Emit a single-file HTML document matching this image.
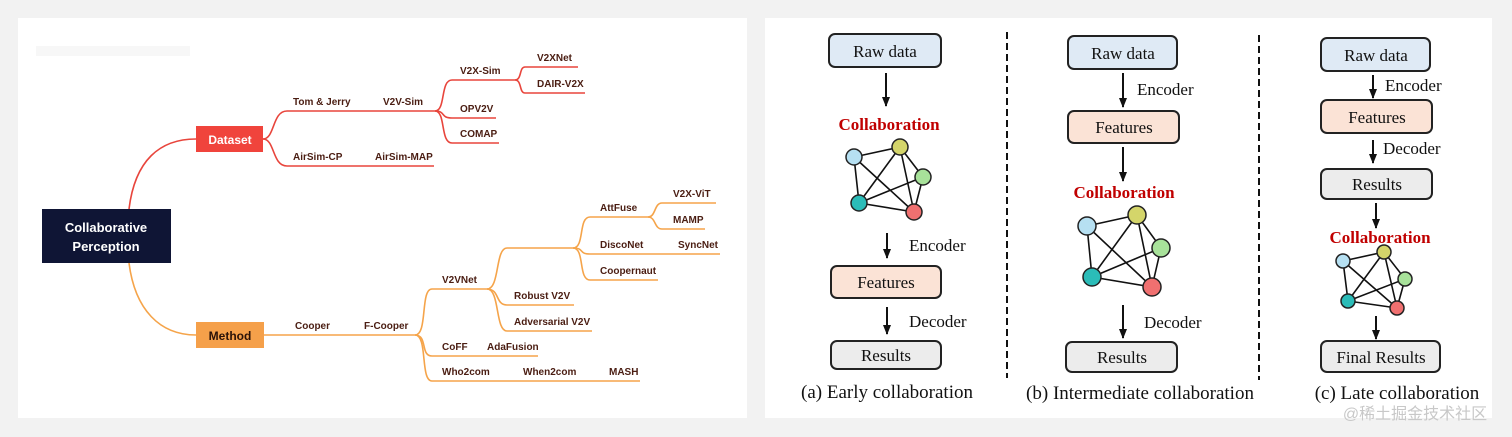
<!DOCTYPE html>
<html><head><meta charset="utf-8"><style>
html,body{margin:0;padding:0;background:#f2f2f2;}
svg{display:block}
.m{font-family:"Liberation Sans",sans-serif;font-size:10px;font-weight:bold;fill:#4a1d12}
.s{font-family:"Liberation Serif",serif;}
</style></head><body>
<svg width="1512" height="437" viewBox="0 0 1512 437" xmlns="http://www.w3.org/2000/svg">
<rect x="0" y="0" width="1512" height="437" fill="#f2f2f2"/>
<rect x="18" y="18" width="729" height="400" fill="#fff"/>
<rect x="765" y="18" width="727" height="400" fill="#fff"/>
<rect x="36" y="46" width="154" height="10" fill="#f7f7f7"/>

<g fill="none" stroke="#e8453c" stroke-width="1.6">
<path d="M129 209 C135 160 160 139 196 139"/>
<path d="M263 139 C275 139 272 111 287 111 H435"/>
<path d="M263 139 C275 139 272 166 287 166 H434"/>
<path d="M435 111 C446 111 440 80 452 80 H515"/>
<path d="M435 111 C446 111 440 118 452 118 H496"/>
<path d="M435 111 C446 111 440 143 452 143 H499"/>
<path d="M515 80 C522 80 519 67 525 67 H578"/>
<path d="M515 80 C522 80 519 93 525 93 H585"/>
</g>
<g fill="none" stroke="#f5a44a" stroke-width="1.6">
<path d="M129 263 C135 310 160 335 196 335"/>
<path d="M264 335 H415"/>
<path d="M415 335 C428 335 420 289 432 289 H487"/>
<path d="M415 335 C428 335 420 356 432 356 H538"/>
<path d="M415 335 C428 335 420 381 432 381 H640"/>
<path d="M487 289 C500 289 495 248 507 248 H573"/>
<path d="M487 289 C500 289 495 305 507 305 H574"/>
<path d="M487 289 C500 289 495 331 507 331 H592"/>
<path d="M573 248 C585 248 578 217 590 217 H648"/>
<path d="M573 248 C585 248 578 254 590 254 H720"/>
<path d="M573 248 C585 248 578 280 590 280 H658"/>
<path d="M648 217 C656 217 654 203 662 203 H716"/>
<path d="M648 217 C656 217 654 229 662 229 H705"/>
</g>
<rect x="42" y="209" width="129" height="54" fill="#0f1535"/>
<text x="106" y="232" text-anchor="middle" font-family="Liberation Sans,sans-serif" font-size="13" font-weight="bold" fill="#fff">Collaborative</text>
<text x="106" y="251" text-anchor="middle" font-family="Liberation Sans,sans-serif" font-size="13" font-weight="bold" fill="#fff">Perception</text>
<rect x="196" y="126" width="67" height="26" fill="#f0443c"/>
<text x="230" y="144" text-anchor="middle" font-family="Liberation Sans,sans-serif" font-size="12" font-weight="bold" fill="#fff">Dataset</text>
<rect x="196" y="322" width="68" height="26" fill="#f5a04a"/>
<text x="230" y="340" text-anchor="middle" font-family="Liberation Sans,sans-serif" font-size="12" font-weight="bold" fill="#2a1208">Method</text>
<g class="m">
<text x="293" y="105">Tom &amp; Jerry</text><text x="383" y="105">V2V-Sim</text>
<text x="293" y="160">AirSim-CP</text><text x="375" y="160">AirSim-MAP</text>
<text x="460" y="74">V2X-Sim</text><text x="460" y="112">OPV2V</text><text x="460" y="137">COMAP</text>
<text x="537" y="61">V2XNet</text><text x="537" y="87">DAIR-V2X</text>
<text x="295" y="329">Cooper</text><text x="364" y="329">F-Cooper</text>
<text x="442" y="283">V2VNet</text>
<text x="442" y="350">CoFF</text><text x="487" y="350">AdaFusion</text>
<text x="442" y="375">Who2com</text><text x="523" y="375">When2com</text><text x="609" y="375">MASH</text>
<text x="514" y="299">Robust V2V</text><text x="514" y="325">Adversarial V2V</text>
<text x="600" y="211">AttFuse</text><text x="600" y="248">DiscoNet</text><text x="678" y="248">SyncNet</text><text x="600" y="274">Coopernaut</text>
<text x="673" y="197">V2X-ViT</text><text x="673" y="223">MAMP</text>
</g>

<defs><marker id="ah" markerWidth="10" markerHeight="8" refX="9" refY="4" orient="auto" markerUnits="userSpaceOnUse"><path d="M0 0 L10 4 L0 8 Z" fill="#111"/></marker></defs>

<g class="s" font-size="17" text-anchor="middle" fill="#111">
<g stroke="#222" stroke-width="2">
<rect x="829" y="34" width="112" height="33" rx="6" fill="#dfeaf5"/>
<rect x="831" y="266" width="110" height="32" rx="6" fill="#fbe3d6"/>
<rect x="831" y="341" width="110" height="28" rx="6" fill="#ececec"/>
<rect x="1068" y="36" width="109" height="33" rx="6" fill="#dfeaf5"/>
<rect x="1068" y="111" width="111" height="32" rx="6" fill="#fbe3d6"/>
<rect x="1066" y="342" width="111" height="30" rx="6" fill="#ececec"/>
<rect x="1321" y="38" width="109" height="33" rx="6" fill="#dfeaf5"/>
<rect x="1321" y="100" width="111" height="33" rx="6" fill="#fbe3d6"/>
<rect x="1321" y="169" width="111" height="30" rx="6" fill="#ececec"/>
<rect x="1321" y="341" width="119" height="31" rx="6" fill="#ececec"/>
</g>
<text x="885" y="57">Raw data</text><text x="886" y="288">Features</text><text x="886" y="361">Results</text>
<text x="1123" y="59">Raw data</text><text x="1124" y="133">Features</text><text x="1122" y="363">Results</text>
<text x="1376" y="61">Raw data</text><text x="1377" y="123">Features</text><text x="1377" y="190">Results</text><text x="1381" y="363">Final Results</text>
<g text-anchor="start">
<text x="909" y="251">Encoder</text><text x="909" y="327">Decoder</text>
<text x="1137" y="95">Encoder</text><text x="1144" y="328">Decoder</text>
<text x="1385" y="91">Encoder</text><text x="1383" y="154">Decoder</text>
</g>
<g fill="#c00000" font-weight="bold">
<text x="889" y="130">Collaboration</text>
<text x="1124" y="198">Collaboration</text>
<text x="1380" y="243">Collaboration</text>
</g>
<g font-size="19">
<text x="887" y="398">(a) Early collaboration</text>
<text x="1140" y="399">(b) Intermediate collaboration</text>
<text x="1397" y="399">(c) Late collaboration</text>
</g>
<text x="1415" y="419" font-family="Liberation Sans,Noto Sans CJK SC,sans-serif" font-size="16" fill="#c8c8c8">@稀土掘金技术社区</text>
</g>
<g stroke="#111" stroke-width="2" marker-end="url(#ah)">
<line x1="886" y1="73" x2="886" y2="106"/>
<line x1="887" y1="233" x2="887" y2="258"/>
<line x1="887" y1="307" x2="887" y2="334"/>
<line x1="1123" y1="73" x2="1123" y2="107"/>
<line x1="1123" y1="147" x2="1123" y2="181"/>
<line x1="1123" y1="305" x2="1123" y2="338"/>
<line x1="1373" y1="75" x2="1373" y2="98"/>
<line x1="1373" y1="140" x2="1373" y2="163"/>
<line x1="1376" y1="203" x2="1376" y2="228"/>
<line x1="1376" y1="316" x2="1376" y2="339"/>
</g>
<g stroke="#111" stroke-width="2" stroke-dasharray="7,4">
<line x1="1007" y1="32" x2="1007" y2="378"/>
<line x1="1259" y1="35" x2="1259" y2="380"/>
</g>
<g stroke="#111" stroke-width="1.6">
<path d="M854 157L900 147M854 157L859 203M854 157L914 212M900 147L859 203M900 147L923 177M900 147L914 212M923 177L859 203M923 177L914 212M859 203L914 212"/>
<path d="M1087 226L1137 215M1087 226L1092 277M1087 226L1152 287M1137 215L1092 277M1137 215L1161 248M1137 215L1152 287M1161 248L1092 277M1161 248L1152 287M1092 277L1152 287"/>
<path d="M1343 261L1384 252M1343 261L1348 301M1343 261L1397 308M1384 252L1348 301M1384 252L1405 279M1384 252L1397 308M1405 279L1348 301M1405 279L1397 308M1348 301L1397 308"/>
</g>
<g stroke="#222" stroke-width="1.5">
<circle cx="854" cy="157" r="8" fill="#b6e0f2"/><circle cx="900" cy="147" r="8" fill="#d4d56a"/><circle cx="923" cy="177" r="8" fill="#a8e29a"/><circle cx="859" cy="203" r="8" fill="#2bbcb8"/><circle cx="914" cy="212" r="8" fill="#f07070"/>
<circle cx="1087" cy="226" r="9" fill="#b6e0f2"/><circle cx="1137" cy="215" r="9" fill="#d4d56a"/><circle cx="1161" cy="248" r="9" fill="#a8e29a"/><circle cx="1092" cy="277" r="9" fill="#2bbcb8"/><circle cx="1152" cy="287" r="9" fill="#f07070"/>
<circle cx="1343" cy="261" r="7" fill="#b6e0f2"/><circle cx="1384" cy="252" r="7" fill="#d4d56a"/><circle cx="1405" cy="279" r="7" fill="#a8e29a"/><circle cx="1348" cy="301" r="7" fill="#2bbcb8"/><circle cx="1397" cy="308" r="7" fill="#f07070"/>
</g>
</svg>
</body></html>
